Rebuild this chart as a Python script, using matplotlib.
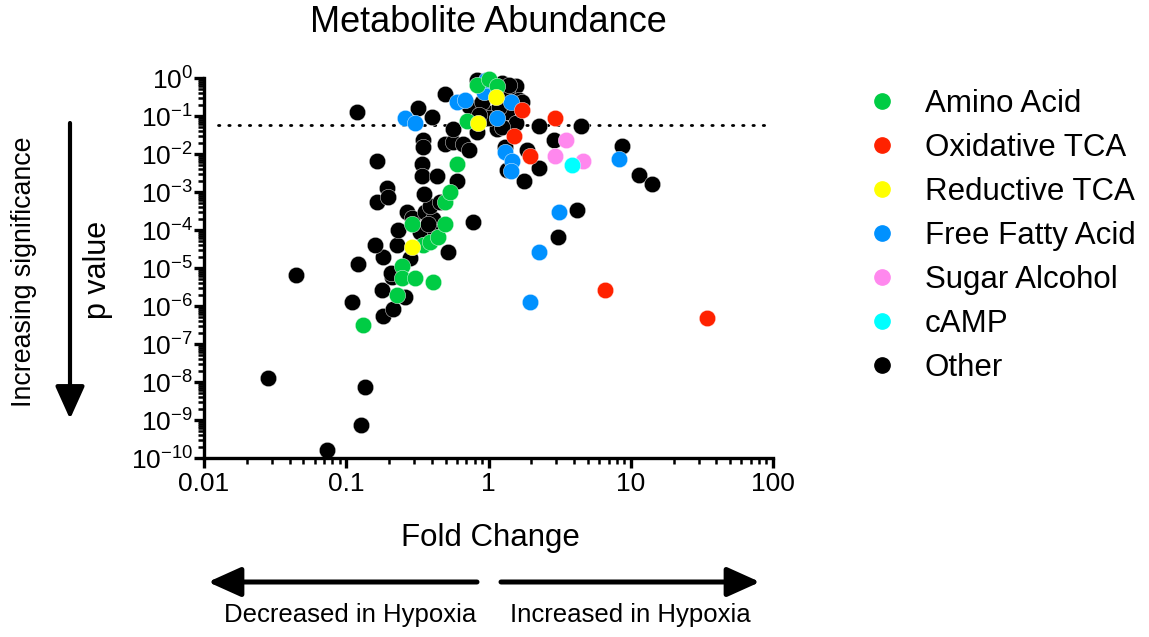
import matplotlib
matplotlib.use("Agg")
import matplotlib.pyplot as plt
import matplotlib.ticker as mticker
from matplotlib.patches import FancyArrowPatch
from matplotlib.lines import Line2D
import numpy as np

plt.rcParams['font.family'] = ['Liberation Sans', 'DejaVu Sans']
plt.rcParams['mathtext.fontset'] = 'custom'
plt.rcParams['mathtext.rm'] = 'Liberation Sans'

# ---------------- data (fold change, p value) ----------------
amino_fc = [0.131, 0.226, 0.245, 0.245, 0.303, 0.405, 0.288, 0.344, 0.385, 0.439,
            0.491, 0.491, 0.532, 0.596, 0.701, 0.824, 1.016, 1.14]
amino_p = [3.1e-7, 1.9e-6, 1.1e-5, 5.3e-6, 5.3e-6, 4.3e-6, 1.4e-4, 4.1e-5, 4.7e-5, 6.5e-5,
           1.4e-4, 5.3e-4, 1.0e-3, 5.3e-3, 0.076, 0.64, 0.97, 0.60]

oxtca_fc = [1.73, 1.52, 1.97, 2.95, 6.6, 34.4]
oxtca_p = [0.14, 0.029, 0.0086, 0.089, 2.6e-6, 4.7e-7]

redtca_fc = [0.288, 0.837, 1.12]
redtca_p = [3.6e-5, 0.067, 0.31]

ffa_fc = [0.257, 0.303, 0.596, 0.679, 0.937, 1.14, 1.45, 1.30, 1.47, 1.45,
          8.3, 3.15, 2.28, 1.97, 0.968]
ffa_p = [0.089, 0.067, 0.23, 0.27, 0.42, 0.089, 0.24, 0.011, 0.0064, 0.0035,
         0.0076, 3.0e-4, 2.6e-5, 1.3e-6, 0.91]

sugar_fc = [3.52, 2.95, 4.64]
sugar_p = [0.024, 0.0091, 0.0064]

camp_fc = [3.88]
camp_p = [0.0050]

other_fc = [0.119, 0.0443, 0.0281, 0.0729, 0.135, 0.126, 0.109, 0.120, 0.180, 0.212,
            0.257, 0.177, 0.209, 0.205, 0.180, 0.279, 0.158, 0.226, 0.515, 0.230,
            0.266, 0.288, 0.356, 0.405, 0.385, 0.453, 0.350, 0.164, 0.192, 0.196,
            0.164, 0.339, 0.339, 0.432, 0.596, 0.344, 0.344, 0.491, 0.559, 0.657,
            0.735, 0.559, 0.318, 0.398, 0.491, 0.772, 0.328, 0.418, 0.373,
            0.824, 1.25, 1.57, 1.34, 0.735, 0.968, 1.34, 0.824, 1.14, 1.57,
            1.25, 0.907, 1.19, 1.65, 1.016, 0.864, 1.40,
            2.28, 4.50, 2.90, 1.85, 1.34, 2.28, 1.79, 8.7, 11.5, 14.2,
            4.22, 3.10, 1.30, 1.73]
other_p = [0.124, 6.7e-6, 1.24e-8, 1.6e-10, 7.6e-9, 7.2e-10, 1.24e-6, 1.3e-5, 5.5e-7, 8.1e-7,
           1.7e-6, 2.6e-6, 5.8e-6, 7.6e-6, 2.0e-5, 1.8e-5, 4.1e-5, 4.1e-5, 2.7e-5, 1.03e-4,
           3.0e-4, 2.1e-4, 3.0e-4, 1.9e-4, 4.2e-4, 5.6e-4, 8.6e-4, 5.6e-4, 1.3e-3, 7.6e-4,
           6.4e-3, 5.3e-3, 2.6e-3, 2.6e-3, 1.9e-3, 0.024, 0.015, 0.018, 0.021, 0.018,
           0.0127, 0.045, 0.16, 0.097, 0.37, 1.6e-4, 9.1e-5, 9.1e-5, 1.4e-4,
           0.91, 0.76, 0.60, 0.42, 0.18, 0.124, 0.124, 0.039, 0.045, 0.067,
           0.050, 0.23, 0.17, 0.27, 0.089, 0.109, 0.67,
           0.053, 0.055, 0.024, 0.0127, 0.0039, 0.0042, 0.0019, 0.016, 0.0028, 0.0016,
           3.4e-4, 6.5e-5, 0.015, 0.23]

threshold_p = 0.058

categories = ["Amino Acid", "Oxidative TCA", "Reductive TCA", "Free Fatty Acid",
              "Sugar Alcohol", "cAMP", "Other"]
series = [(amino_fc, amino_p), (oxtca_fc, oxtca_p), (redtca_fc, redtca_p),
          (ffa_fc, ffa_p), (sugar_fc, sugar_p), (camp_fc, camp_p), (other_fc, other_p)]
colors = ["#00cc44", "#ff2200", "#ffff00", "#0091ff", "#ff88ee", "#00ffff", "#000000"]

x_ticks = [0.01, 0.1, 1, 10, 100]
x_ticklabels = ["0.01", "0.1", "1", "10", "100"]

# ---------------- figure ----------------
W, H = 1149, 637
fig = plt.figure(figsize=(W / 100, H / 100), dpi=100)
ax = fig.add_axes([204 / W, 1 - 458 / H, (773 - 204) / W, (458 - 78) / H])

def fx(px):
    return px / W

def fy(py):
    return 1 - py / H

ms = 140
# draw "Other" first so coloured classes sit on top
order = [6, 3, 0, 1, 4, 5, 2]
for z, i in enumerate(order):
    fc, p = series[i]
    ax.scatter(fc, p, s=ms, c=colors[i], edgecolors='white', linewidths=0.3,
               zorder=2 + z * 0.01, clip_on=False)

ax.set_xscale('log')
ax.set_yscale('log')
ax.set_xlim(0.01, 100)
ax.set_ylim(1e-10, 1)

ax.axhline(threshold_p, xmin=0.025, xmax=1, color='black', lw=2.0,
           linestyle=(0, (0.5, 3.2)), dash_capstyle='round', zorder=1)

for s in ['top', 'right']:
    ax.spines[s].set_visible(False)
for s in ['left', 'bottom']:
    ax.spines[s].set_linewidth(2.4)

ax.set_xticks(x_ticks)
ax.set_xticklabels(x_ticklabels)
ax.set_yticks([10.0 ** (-k) for k in range(11)])
ax.yaxis.set_major_formatter(mticker.LogFormatterSciNotation())
ax.xaxis.set_minor_locator(mticker.LogLocator(base=10, subs=np.arange(2, 10), numticks=100))
ax.yaxis.set_minor_locator(mticker.LogLocator(base=10, subs=np.arange(2, 10), numticks=100))
ax.xaxis.set_minor_formatter(mticker.NullFormatter())
ax.yaxis.set_minor_formatter(mticker.NullFormatter())
ax.tick_params(which='major', length=7, width=2.4, labelsize=19, pad=3)
ax.tick_params(which='minor', length=4, width=1.8)
ax.tick_params(axis='y', which='major', pad=1)

# titles / labels
fig.text(fx(488), fy(22), "Metabolite Abundance", ha='center', va='center', fontsize=26)
fig.text(fx(490), fy(538), "Fold Change", ha='center', va='center', fontsize=22.5)
fig.text(fx(98), fy(270), "p value", ha='center', va='center', fontsize=22, rotation=90)
fig.text(fx(24), fy(272), "Increasing significance", ha='center', va='center',
         fontsize=19.3, rotation=90)
fig.text(fx(350), fy(615), "Decreased in Hypoxia", ha='center', va='center', fontsize=18.5)
fig.text(fx(630), fy(615), "Increased in Hypoxia", ha='center', va='center', fontsize=18.5)

# arrows
def arrow(p0, p1, lw):
    a = FancyArrowPatch((fx(p0[0]), fy(p0[1])), (fx(p1[0]), fy(p1[1])),
                        transform=fig.transFigure, arrowstyle='-|>,head_length=20,head_width=9',
                        mutation_scale=1, lw=lw, color='black', shrinkA=0, shrinkB=0,
                        capstyle='round')
    fig.add_artist(a)

arrow((477, 582), (208, 582), 3.6)
arrow((501, 582), (760, 582), 3.6)
arrow((70, 123), (70, 419), 3.0)

# legend
handles = [Line2D([0], [0], marker='o', linestyle='none', markersize=11,
                  markerfacecolor=c, markeredgecolor=c) for c in colors]
leg = fig.legend(handles, categories, loc='upper left',
                 bbox_to_anchor=(fx(866), fy(89)), frameon=False, fontsize=22.5,
                 labelspacing=0.45, handletextpad=0.88, handlelength=1.0, borderpad=0,
                 borderaxespad=0)

fig.savefig("out.png", dpi=100)
